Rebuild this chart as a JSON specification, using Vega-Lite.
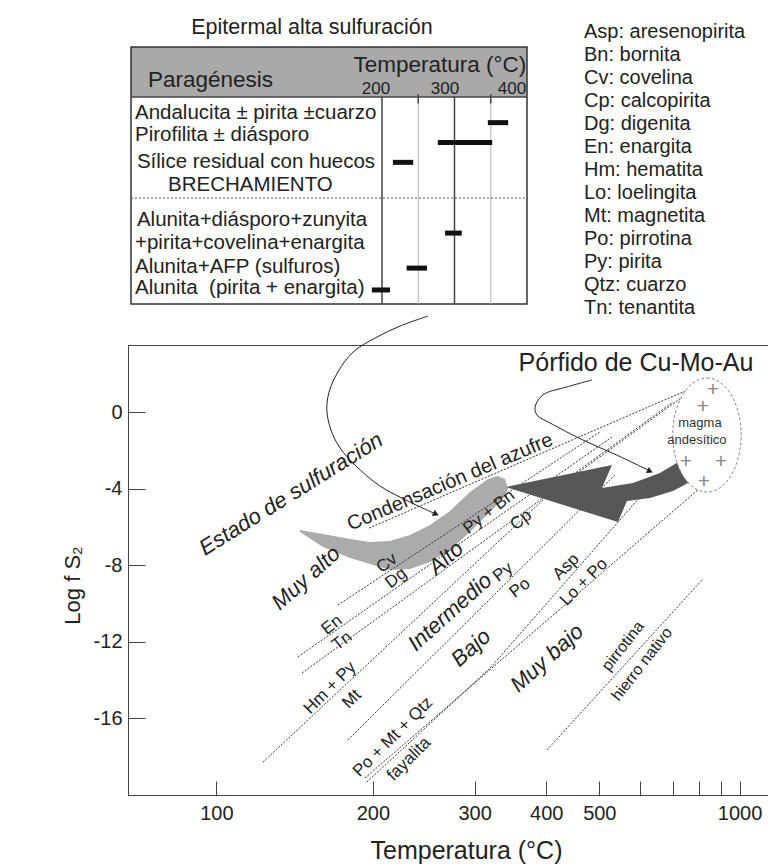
{
  "$schema": "https://vega.github.io/schema/vega-lite/v6.json",
  "width": 641,
  "height": 450,
  "autosize": {"type": "none"},
  "padding": {"left": 128, "top": 345, "right": 0, "bottom": 72},
  "background": "white",
  "config": {
    "font": "Liberation Sans",
    "view": {"stroke": "#444", "strokeWidth": 1},
    "axis": {"grid": false},
    "text": {"color": "#222"}
  },
  "resolve": {"scale": {"x": "independent", "y": "independent"}, "axis": {"x": "independent", "y": "independent"}},
  "layer": [
    {
      "layer": [
        {
          "data": {"values": [
            {"inv": 2.3773, "val": -6.162, "val2": -6.267},
            {"inv": 2.2940, "val": -6.371, "val2": -7.050},
            {"inv": 2.1962, "val": -6.632, "val2": -7.624},
            {"inv": 2.1238, "val": -6.789, "val2": -7.938},
            {"inv": 2.0514, "val": -6.737, "val2": -8.251},
            {"inv": 1.9790, "val": -6.423, "val2": -8.199},
            {"inv": 1.9066, "val": -5.901, "val2": -7.833},
            {"inv": 1.8342, "val": -5.170, "val2": -7.207},
            {"inv": 1.7618, "val": -4.178, "val2": -6.267},
            {"inv": 1.6966, "val": -3.499, "val2": -5.327},
            {"inv": 1.6604, "val": -3.342, "val2": -4.804},
            {"inv": 1.6350, "val": -3.499, "val2": -4.387},
            {"inv": 1.6242, "val": -3.969, "val2": -4.021}
          ]},
          "mark": {"type": "area", "color": "#ababab", "opacity": 1},
          "encoding": {
            "x": {"field": "inv", "type": "quantitative", "scale": {"domain": [0.679, 3.0], "reverse": true},
              "axis": {"title": "Temperatura (°C)", "values": [2.67989, 2.11349, 1.74474, 1.48555, 1.29341, 1.14528, 1.02759, 0.93184, 0.85240, 0.78548],
                "labelExpr": "(round(1000/datum.value-273.15) <= 500 || round(1000/datum.value-273.15) >= 1000) ? ('' + round(1000/datum.value-273.15)) : ''",
                "tickSize": -14, "labelPadding": 22, "labelFontSize": 20, "labelColor": "#222", "domainColor": "#444", "tickColor": "#444",
                "labelOverlap": false, "labelFlush": false, "titleFontSize": 25, "titleFontWeight": "normal", "titleColor": "#222",
                "titleX": 338, "titleY": 55, "titleBaseline": "middle"}},
            "y": {"field": "val", "type": "quantitative", "scale": {"domain": [-20, 3.5]},
              "axis": {"title": "Log f S₂", "values": [0, -4, -8, -12, -16], "labelExpr": "'' + datum.value",
                "tickSize": -17, "labelPadding": 23, "labelFontSize": 20, "labelColor": "#222", "domainColor": "#444", "tickColor": "#444",
                "labelOverlap": false, "labelFlush": false, "titleFontSize": 22, "titleFontWeight": "normal", "titleColor": "#222",
                "titleX": -56, "titleY": 240, "titleBaseline": "middle"}},
            "y2": {"field": "val2"}
          }
        },
        {
          "data": {"values": [
            {"linea": "S", "orden": 1, "inv": 2.127, "val": -6.06},
            {"linea": "S", "orden": 2, "inv": 0.958, "val": 1.25},
            {"linea": "CvDg", "orden": 1, "inv": 2.240, "val": -10.08},
            {"linea": "CvDg", "orden": 2, "inv": 1.291, "val": -1.04},
            {"linea": "PyBnCp", "orden": 1, "inv": 2.385, "val": -12.79},
            {"linea": "PyBnCp", "orden": 2, "inv": 1.248, "val": -1.31},
            {"linea": "EnTn", "orden": 1, "inv": 2.370, "val": -13.63},
            {"linea": "EnTn", "orden": 2, "inv": 0.973, "val": 0.99},
            {"linea": "HmPyMt", "orden": 1, "inv": 2.511, "val": -18.28},
            {"linea": "HmPyMt", "orden": 2, "inv": 1.436, "val": -3.76},
            {"linea": "HmPyMt", "orden": 3, "inv": 1.027, "val": 0.52},
            {"linea": "PyPo", "orden": 1, "inv": 2.204, "val": -17.13},
            {"linea": "PyPo", "orden": 2, "inv": 1.237, "val": -3.29},
            {"linea": "PoMtQtzFa", "orden": 1, "inv": 2.142, "val": -19.11},
            {"linea": "PoMtQtzFa", "orden": 2, "inv": 0.929, "val": -3.97},
            {"linea": "AspLoPo", "orden": 1, "inv": 2.135, "val": -19.32},
            {"linea": "AspLoPo", "orden": 2, "inv": 1.689, "val": -13.37},
            {"linea": "AspLoPo", "orden": 3, "inv": 1.146, "val": -4.44},
            {"linea": "PoFe", "orden": 1, "inv": 1.483, "val": -17.65},
            {"linea": "PoFe", "orden": 2, "inv": 0.918, "val": -8.72}
          ]},
          "mark": {"type": "line", "strokeDash": [2, 1.5], "strokeWidth": 1, "color": "#333"},
          "encoding": {
            "x": {"field": "inv", "type": "quantitative", "scale": {"domain": [0.679, 3.0], "reverse": true}},
            "y": {"field": "val", "type": "quantitative", "scale": {"domain": [-20, 3.5]}},
            "detail": {"field": "linea"},
            "order": {"field": "orden"}
          }
        },
        {
          "data": {"values": [
            {"i": 0, "inv": 1.6314, "val": -3.917},
            {"i": 1, "inv": 1.2476, "val": -2.768},
            {"i": 2, "inv": 1.2838, "val": -3.969},
            {"i": 3, "inv": 1.1716, "val": -3.708},
            {"i": 4, "inv": 1.0739, "val": -3.186},
            {"i": 5, "inv": 1.0014, "val": -2.559},
            {"i": 6, "inv": 0.9652, "val": -2.298},
            {"i": 7, "inv": 0.9508, "val": -3.029},
            {"i": 8, "inv": 0.9652, "val": -3.656},
            {"i": 9, "inv": 1.0268, "val": -4.126},
            {"i": 10, "inv": 1.1101, "val": -4.491},
            {"i": 11, "inv": 1.1933, "val": -4.648},
            {"i": 12, "inv": 1.2259, "val": -5.744},
            {"i": 13, "inv": 1.6314, "val": -3.917}
          ]},
          "mark": {"type": "line", "filled": true, "color": "#575757", "strokeWidth": 0.5},
          "encoding": {
            "x": {"field": "inv", "type": "quantitative", "scale": {"domain": [0.679, 3.0], "reverse": true}},
            "y": {"field": "val", "type": "quantitative", "scale": {"domain": [-20, 3.5]}},
            "order": {"field": "i"}
          }
        },
        {
          "data": {"values": [{"inv": 0.9037, "val": -1.201}]},
          "mark": {"type": "point", "shape": "M0,-1C0.3314,-1,0.6,-0.5523,0.6,0C0.6,0.5523,0.3314,1,0,1C-0.3314,1,-0.6,0.5523,-0.6,0C-0.6,-0.5523,-0.3314,-1,0,-1Z",
            "size": 12996, "filled": true, "fill": "white", "stroke": "#888", "strokeWidth": 1, "strokeDash": [3, 2], "opacity": 1},
          "encoding": {
            "x": {"field": "inv", "type": "quantitative", "scale": {"domain": [0.679, 3.0], "reverse": true}},
            "y": {"field": "val", "type": "quantitative", "scale": {"domain": [-20, 3.5]}}
          }
        },
        {
          "data": {"values": [
            {"t": "+", "inv": 0.882, "val": 1.15},
            {"t": "+", "inv": 0.918, "val": 0.25},
            {"t": "+", "inv": 0.980, "val": -2.611},
            {"t": "+", "inv": 0.853, "val": -2.611},
            {"t": "+", "inv": 0.915, "val": -3.656}
          ]},
          "mark": {"type": "text", "fontSize": 21, "color": "#888"},
          "encoding": {
            "x": {"field": "inv", "type": "quantitative", "scale": {"domain": [0.679, 3.0], "reverse": true}},
            "y": {"field": "val", "type": "quantitative", "scale": {"domain": [-20, 3.5]}},
            "text": {"field": "t"}
          }
        },
        {
          "data": {"values": [
            {"t": "magma", "inv": 0.929, "val": -0.58},
            {"t": "andesítico", "inv": 0.940, "val": -1.45}
          ]},
          "mark": {"type": "text", "fontSize": 13, "color": "#333"},
          "encoding": {
            "x": {"field": "inv", "type": "quantitative", "scale": {"domain": [0.679, 3.0], "reverse": true}},
            "y": {"field": "val", "type": "quantitative", "scale": {"domain": [-20, 3.5]}},
            "text": {"field": "t"}
          }
        },
        {
          "data": {"values": [
            {"curva": "A", "i": 1, "inv": 1.914, "val": 5.01},
            {"curva": "A", "i": 2, "inv": 2.015, "val": 4.49},
            {"curva": "A", "i": 3, "inv": 2.106, "val": 3.86},
            {"curva": "A", "i": 4, "inv": 2.185, "val": 3.13},
            {"curva": "A", "i": 5, "inv": 2.240, "val": 2.09},
            {"curva": "A", "i": 6, "inv": 2.272, "val": 1.04},
            {"curva": "A", "i": 7, "inv": 2.280, "val": 0.10},
            {"curva": "A", "i": 8, "inv": 2.265, "val": -0.94},
            {"curva": "A", "i": 9, "inv": 2.232, "val": -1.88},
            {"curva": "A", "i": 10, "inv": 2.178, "val": -2.77},
            {"curva": "A", "i": 11, "inv": 2.088, "val": -3.86},
            {"curva": "A", "i": 12, "inv": 1.979, "val": -4.70},
            {"curva": "A", "i": 13, "inv": 1.878, "val": -5.38},
            {"curva": "B", "i": 1, "inv": 1.320, "val": 1.67},
            {"curva": "B", "i": 2, "inv": 1.411, "val": 1.31},
            {"curva": "B", "i": 3, "inv": 1.498, "val": 0.89},
            {"curva": "B", "i": 4, "inv": 1.526, "val": 0.26},
            {"curva": "B", "i": 5, "inv": 1.519, "val": -0.16},
            {"curva": "B", "i": 6, "inv": 1.472, "val": -0.57},
            {"curva": "B", "i": 7, "inv": 1.353, "val": -1.46},
            {"curva": "B", "i": 8, "inv": 1.230, "val": -2.25},
            {"curva": "B", "i": 9, "inv": 1.103, "val": -3.13}
          ]},
          "mark": {"type": "line", "interpolate": "catmull-rom", "strokeWidth": 1, "color": "#222"},
          "encoding": {
            "x": {"field": "inv", "type": "quantitative", "scale": {"domain": [0.679, 3.0], "reverse": true}},
            "y": {"field": "val", "type": "quantitative", "scale": {"domain": [-20, 3.5]}},
            "detail": {"field": "curva"},
            "order": {"field": "i"}
          }
        },
        {
          "data": {"values": [{"inv": 1.885, "val": -5.33}]},
          "mark": {"type": "point", "shape": "triangle-right", "size": 45, "angle": 25, "filled": true, "color": "#222", "opacity": 1},
          "encoding": {
            "x": {"field": "inv", "type": "quantitative", "scale": {"domain": [0.679, 3.0], "reverse": true}},
            "y": {"field": "val", "type": "quantitative", "scale": {"domain": [-20, 3.5]}}
          }
        },
        {
          "data": {"values": [{"inv": 1.110, "val": -3.09}]},
          "mark": {"type": "point", "shape": "triangle-right", "size": 45, "angle": 26, "filled": true, "color": "#222", "opacity": 1},
          "encoding": {
            "x": {"field": "inv", "type": "quantitative", "scale": {"domain": [0.679, 3.0], "reverse": true}},
            "y": {"field": "val", "type": "quantitative", "scale": {"domain": [-20, 3.5]}}
          }
        },
        {
          "data": {"values": [{"t": "Pórfido de Cu-Mo-Au", "inv": 1.1607, "val": 2.56}]},
          "mark": {"type": "text", "fontSize": 25, "color": "#222"},
          "encoding": {
            "x": {"field": "inv", "type": "quantitative", "scale": {"domain": [0.679, 3.0], "reverse": true}},
            "y": {"field": "val", "type": "quantitative", "scale": {"domain": [-20, 3.5]}},
            "text": {"field": "t"}
          }
        },
        {
          "data": {"values": [{"t": "Estado de sulfuración", "inv": 2.4098, "val": -4.28}]},
          "mark": {"type": "text", "fontSize": 22, "fontStyle": "italic", "angle": -32, "color": "#222"},
          "encoding": {
            "x": {"field": "inv", "type": "quantitative", "scale": {"domain": [0.679, 3.0], "reverse": true}},
            "y": {"field": "val", "type": "quantitative", "scale": {"domain": [-20, 3.5]}},
            "text": {"field": "t"}
          }
        },
        {
          "data": {"values": [{"t": "Condensación del azufre", "inv": 1.8342, "val": -3.66}]},
          "mark": {"type": "text", "fontSize": 20, "angle": -23, "color": "#222"},
          "encoding": {
            "x": {"field": "inv", "type": "quantitative", "scale": {"domain": [0.679, 3.0], "reverse": true}},
            "y": {"field": "val", "type": "quantitative", "scale": {"domain": [-20, 3.5]}},
            "text": {"field": "t"}
          }
        },
        {
          "data": {"values": [
            {"t": "Muy alto", "inv": 2.3555, "val": -8.67},
            {"t": "Alto", "inv": 1.8487, "val": -7.62},
            {"t": "Intermedio", "inv": 1.8342, "val": -10.44},
            {"t": "Bajo", "inv": 1.7581, "val": -12.32},
            {"t": "Muy bajo", "inv": 1.483, "val": -12.85}
          ]},
          "mark": {"type": "text", "fontSize": 22, "fontStyle": "italic", "angle": -42, "color": "#222"},
          "encoding": {
            "x": {"field": "inv", "type": "quantitative", "scale": {"domain": [0.679, 3.0], "reverse": true}},
            "y": {"field": "val", "type": "quantitative", "scale": {"domain": [-20, 3.5]}},
            "text": {"field": "t"}
          }
        },
        {
          "data": {"values": [
            {"t": "Cv", "inv": 2.0623, "val": -7.89},
            {"t": "Dg", "inv": 2.0297, "val": -8.67},
            {"t": "Py + Bn", "inv": 1.693, "val": -5.22},
            {"t": "Cp", "inv": 1.5771, "val": -5.64},
            {"t": "En", "inv": 2.2614, "val": -11.12},
            {"t": "Tn", "inv": 2.2252, "val": -11.96},
            {"t": "Py", "inv": 1.6423, "val": -8.36},
            {"t": "Po", "inv": 1.5807, "val": -9.19}
          ]},
          "mark": {"type": "text", "fontSize": 17, "angle": -38, "color": "#222"},
          "encoding": {
            "x": {"field": "inv", "type": "quantitative", "scale": {"domain": [0.679, 3.0], "reverse": true}},
            "y": {"field": "val", "type": "quantitative", "scale": {"domain": [-20, 3.5]}},
            "text": {"field": "t"}
          }
        },
        {
          "data": {"values": [
            {"t": "Hm + Py", "inv": 2.2686, "val": -14.41},
            {"t": "Mt", "inv": 2.189, "val": -14.99},
            {"t": "Po + Mt + Qtz", "inv": 2.0405, "val": -16.97},
            {"t": "fayalita", "inv": 1.9826, "val": -18.12},
            {"t": "Asp", "inv": 1.4142, "val": -8.09},
            {"t": "Lo + Po", "inv": 1.349, "val": -8.88}
          ]},
          "mark": {"type": "text", "fontSize": 17, "angle": -45, "color": "#222"},
          "encoding": {
            "x": {"field": "inv", "type": "quantitative", "scale": {"domain": [0.679, 3.0], "reverse": true}},
            "y": {"field": "val", "type": "quantitative", "scale": {"domain": [-20, 3.5]}},
            "text": {"field": "t"}
          }
        },
        {
          "data": {"values": [
            {"t": "pirrotina", "inv": 1.2078, "val": -12.22},
            {"t": "hierro nativo", "inv": 1.139, "val": -13.16}
          ]},
          "mark": {"type": "text", "fontSize": 16, "angle": -52, "color": "#222"},
          "encoding": {
            "x": {"field": "inv", "type": "quantitative", "scale": {"domain": [0.679, 3.0], "reverse": true}},
            "y": {"field": "val", "type": "quantitative", "scale": {"domain": [-20, 3.5]}},
            "text": {"field": "t"}
          }
        }
      ]
    },
    {
      "layer": [
        {
          "data": {"values": [{"T": -146.2, "T2": 400, "f": -1.81, "f2": 0.32}]},
          "mark": {"type": "rect", "color": "#a9a9a9"},
          "encoding": {
            "x": {"field": "T", "type": "quantitative", "scale": {"domain": [200, 400], "range": [254, 399]}, "axis": null},
            "x2": {"field": "T2"},
            "y": {"field": "f", "type": "quantitative", "scale": {"domain": [0, 10], "range": [-255.5, -20.5]}, "axis": null},
            "y2": {"field": "f2"}
          }
        },
        {
          "data": {"values": [{"T": -146.2, "T2": 400, "f": -1.81, "f2": 9.13}]},
          "mark": {"type": "rect", "filled": false, "color": "#333", "strokeWidth": 1.5},
          "encoding": {
            "x": {"field": "T", "type": "quantitative", "scale": {"domain": [200, 400], "range": [254, 399]}, "axis": null},
            "x2": {"field": "T2"},
            "y": {"field": "f", "type": "quantitative", "scale": {"domain": [0, 10], "range": [-255.5, -20.5]}, "axis": null},
            "y2": {"field": "f2"}
          }
        },
        {
          "data": {"values": [
            {"T": 250, "T2": 250, "f": 0.32, "f2": 9.13},
            {"T": 350, "T2": 350, "f": 0.32, "f2": 9.13}
          ]},
          "mark": {"type": "rule", "color": "#b3b3b3", "strokeWidth": 1},
          "encoding": {
            "x": {"field": "T", "type": "quantitative", "scale": {"domain": [200, 400], "range": [254, 399]}, "axis": null},
            "x2": {"field": "T2"},
            "y": {"field": "f", "type": "quantitative", "scale": {"domain": [0, 10], "range": [-255.5, -20.5]}, "axis": null},
            "y2": {"field": "f2"}
          }
        },
        {
          "data": {"values": [
            {"T": -146.2, "T2": 400, "f": 0.32, "f2": 0.32},
            {"T": 200, "T2": 200, "f": 0.32, "f2": 9.13},
            {"T": 300, "T2": 300, "f": 0.32, "f2": 9.13},
            {"T": 250, "T2": 250, "f": 0.2, "f2": 0.6},
            {"T": 350, "T2": 350, "f": 0.2, "f2": 0.6}
          ]},
          "mark": {"type": "rule", "color": "#444", "strokeWidth": 1.5},
          "encoding": {
            "x": {"field": "T", "type": "quantitative", "scale": {"domain": [200, 400], "range": [254, 399]}, "axis": null},
            "x2": {"field": "T2"},
            "y": {"field": "f", "type": "quantitative", "scale": {"domain": [0, 10], "range": [-255.5, -20.5]}, "axis": null},
            "y2": {"field": "f2"}
          }
        },
        {
          "data": {"values": [{"T": -146.2, "T2": 400, "f": 4.62}]},
          "mark": {"type": "rule", "color": "#555", "strokeWidth": 1, "strokeDash": [2, 2]},
          "encoding": {
            "x": {"field": "T", "type": "quantitative", "scale": {"domain": [200, 400], "range": [254, 399]}, "axis": null},
            "x2": {"field": "T2"},
            "y": {"field": "f", "type": "quantitative", "scale": {"domain": [0, 10], "range": [-255.5, -20.5]}, "axis": null}
          }
        },
        {
          "data": {"values": [
            {"asociacion": "Andalucita", "T": 346, "T2": 374, "f": 1.41},
            {"asociacion": "Pirofilita", "T": 277, "T2": 352, "f": 2.26},
            {"asociacion": "Sílice residual", "T": 215, "T2": 243, "f": 3.10},
            {"asociacion": "Alunita+diásporo", "T": 287, "T2": 310, "f": 6.11},
            {"asociacion": "Alunita+AFP", "T": 234, "T2": 262, "f": 7.60},
            {"asociacion": "Alunita", "T": 186, "T2": 211, "f": 8.53}
          ]},
          "mark": {"type": "rule", "color": "#111", "strokeWidth": 5, "strokeCap": "butt"},
          "encoding": {
            "x": {"field": "T", "type": "quantitative", "scale": {"domain": [200, 400], "range": [254, 399]}, "axis": null},
            "x2": {"field": "T2"},
            "y": {"field": "f", "type": "quantitative", "scale": {"domain": [0, 10], "range": [-255.5, -20.5]}, "axis": null}
          }
        },
        {
          "data": {"values": [
            {"t": "Andalucita ± pirita ±cuarzo", "T": -140.7, "f": 1.0},
            {"t": "Pirofilita ± diásporo", "T": -140.7, "f": 1.94},
            {"t": "Sílice residual con huecos", "T": -138, "f": 3.09},
            {"t": "BRECHAMIENTO", "T": -95.2, "f": 4.06},
            {"t": "Alunita+diásporo+zunyita", "T": -138, "f": 5.55},
            {"t": "+pirita+covelina+enargita", "T": -140.7, "f": 6.53},
            {"t": "Alunita+AFP (sulfuros)", "T": -140.7, "f": 7.55},
            {"t": "Alunita\u00a0 (pirita + enargita)", "T": -140.7, "f": 8.45}
          ]},
          "mark": {"type": "text", "align": "left", "fontSize": 20.5, "color": "#222"},
          "encoding": {
            "x": {"field": "T", "type": "quantitative", "scale": {"domain": [200, 400], "range": [254, 399]}, "axis": null},
            "y": {"field": "f", "type": "quantitative", "scale": {"domain": [0, 10], "range": [-255.5, -20.5]}, "axis": null},
            "text": {"field": "t"}
          }
        },
        {
          "data": {"values": [{"t": "Paragénesis", "T": -122.8, "f": -0.40}]},
          "mark": {"type": "text", "align": "left", "fontSize": 22.5, "color": "#222"},
          "encoding": {
            "x": {"field": "T", "type": "quantitative", "scale": {"domain": [200, 400], "range": [254, 399]}, "axis": null},
            "y": {"field": "f", "type": "quantitative", "scale": {"domain": [0, 10], "range": [-255.5, -20.5]}, "axis": null},
            "text": {"field": "t"}
          }
        },
        {
          "data": {"values": [{"t": "Temperatura (°C)", "T": 399, "f": -1.04}]},
          "mark": {"type": "text", "align": "right", "fontSize": 22.5, "color": "#222"},
          "encoding": {
            "x": {"field": "T", "type": "quantitative", "scale": {"domain": [200, 400], "range": [254, 399]}, "axis": null},
            "y": {"field": "f", "type": "quantitative", "scale": {"domain": [0, 10], "range": [-255.5, -20.5]}, "axis": null},
            "text": {"field": "t"}
          }
        },
        {
          "data": {"values": [
            {"t": "200", "T": 191.7, "f": -0.02},
            {"t": "300", "T": 286.9, "f": -0.02},
            {"t": "400", "T": 379.3, "f": -0.02}
          ]},
          "mark": {"type": "text", "fontSize": 17, "color": "#222"},
          "encoding": {
            "x": {"field": "T", "type": "quantitative", "scale": {"domain": [200, 400], "range": [254, 399]}, "axis": null},
            "y": {"field": "f", "type": "quantitative", "scale": {"domain": [0, 10], "range": [-255.5, -20.5]}, "axis": null},
            "text": {"field": "t"}
          }
        },
        {
          "data": {"values": [{"t": "Epitermal alta sulfuración", "T": 103.4, "f": -2.62}]},
          "mark": {"type": "text", "fontSize": 21.5, "color": "#222"},
          "encoding": {
            "x": {"field": "T", "type": "quantitative", "scale": {"domain": [200, 400], "range": [254, 399]}, "axis": null},
            "y": {"field": "f", "type": "quantitative", "scale": {"domain": [0, 10], "range": [-255.5, -20.5]}, "axis": null},
            "text": {"field": "t"}
          }
        }
      ]
    },
    {
      "data": {"values": [
        {"n": 1, "c": 0, "t": "Asp: aresenopirita"},
        {"n": 2, "c": 0, "t": "Bn: bornita"},
        {"n": 3, "c": 0, "t": "Cv: covelina"},
        {"n": 4, "c": 0, "t": "Cp: calcopirita"},
        {"n": 5, "c": 0, "t": "Dg: digenita"},
        {"n": 6, "c": 0, "t": "En: enargita"},
        {"n": 7, "c": 0, "t": "Hm: hematita"},
        {"n": 8, "c": 0, "t": "Lo: loelingita"},
        {"n": 9, "c": 0, "t": "Mt: magnetita"},
        {"n": 10, "c": 0, "t": "Po: pirrotina"},
        {"n": 11, "c": 0, "t": "Py: pirita"},
        {"n": 12, "c": 0, "t": "Qtz: cuarzo"},
        {"n": 13, "c": 0, "t": "Tn: tenantita"}
      ]},
      "mark": {"type": "text", "align": "left", "fontSize": 20, "color": "#222"},
      "encoding": {
        "x": {"field": "c", "type": "quantitative", "scale": {"domain": [0, 1], "range": [456, 640]}, "axis": null},
        "y": {"field": "n", "type": "quantitative", "scale": {"domain": [1, 13], "range": [-313.3, -36.7]}, "axis": null},
        "text": {"field": "t"}
      }
    }
  ]
}
